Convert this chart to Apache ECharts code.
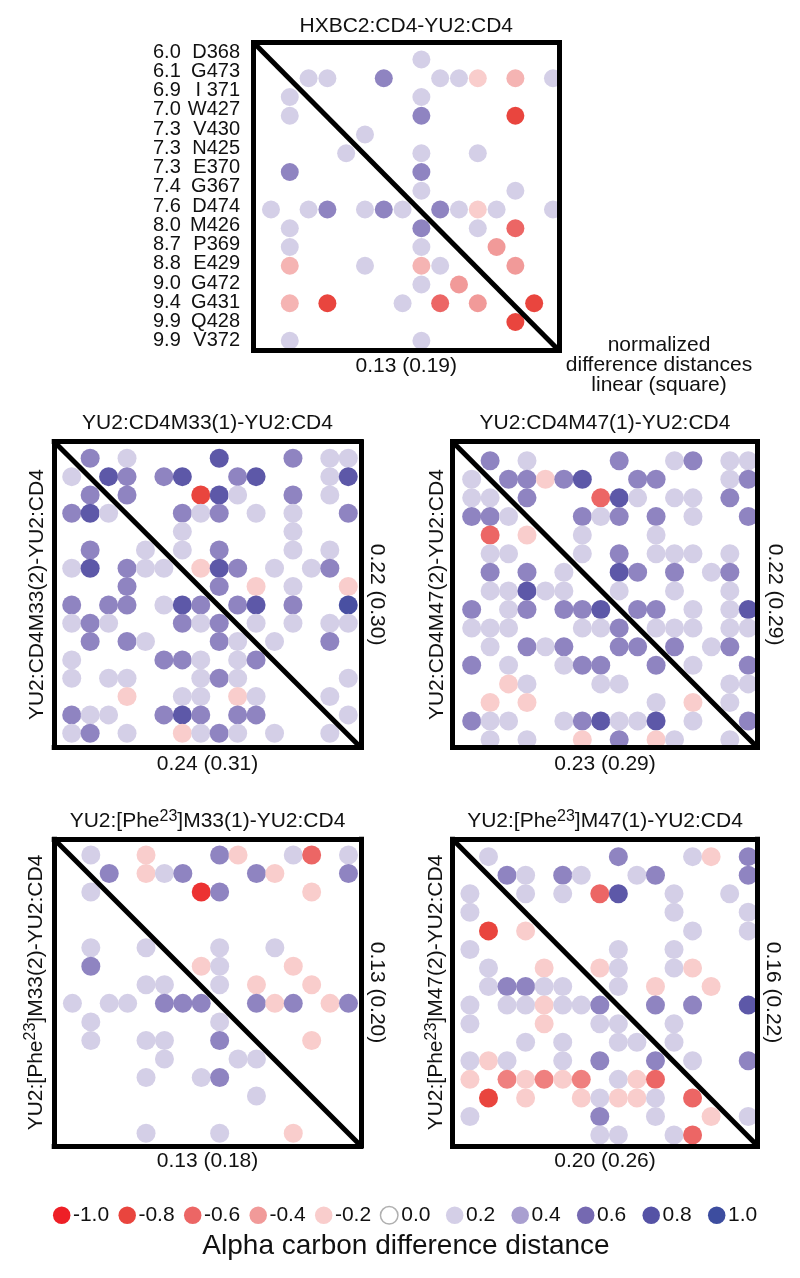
<!DOCTYPE html>
<html><head><meta charset="utf-8">
<script src="https://cdn.jsdelivr.net/npm/echarts@6/dist/echarts.min.js"></script>
<style>html,body{margin:0;padding:0;background:#fff}#c{width:800px;height:1278px}</style>
</head><body><div id="c"></div>
<script>
const FONT = '"Liberation Sans", Arial, Helvetica, sans-serif';

// ---- row labels of the top panel ----
const ROW_DIST = ['6.0','6.1','6.9','7.0','7.3','7.3','7.3','7.4','7.6','8.0','8.7','8.8','9.0','9.4','9.9','9.9'];
const ROW_RES  = ['D368','G473','I 371','W427','V430','N425','E370','G367','D474','M426','P369','E429','G472','G431','Q428','V372'];

// ---- difference-distance matrices (row = residue i, col = residue j, 0 = no dot) ----
const HXBC2 = [
 [0,0,0,0,0,0,0,0,.2,0,0,0,0,0,0,0],
 [0,0,.2,.2,0,0,.5,0,0,.2,.2,-.2,0,-.3,0,.2],
 [0,.2,0,0,0,0,0,0,.2,0,0,0,0,0,0,0],
 [0,.2,0,0,0,0,0,0,.5,0,0,0,0,-.8,0,0],
 [0,0,0,0,0,.2,0,0,0,0,0,0,0,0,0,0],
 [0,0,0,0,.2,0,0,0,.2,0,0,.2,0,0,0,0],
 [0,.5,0,0,0,0,0,0,.5,0,0,0,0,0,0,0],
 [0,0,0,0,0,0,0,0,.2,0,0,0,0,.2,0,0],
 [.2,0,.2,.5,0,.2,.5,.2,0,.5,.2,-.2,.2,0,0,.2],
 [0,.2,0,0,0,0,0,0,.5,0,0,.2,0,-.6,0,0],
 [0,.2,0,0,0,0,0,0,.2,0,0,0,-.4,0,0,0],
 [0,-.3,0,0,0,.2,0,0,-.3,.2,0,0,0,-.4,0,0],
 [0,0,0,0,0,0,0,0,.2,0,-.4,0,0,0,0,0],
 [0,-.3,0,-.8,0,0,0,.2,0,-.6,0,-.4,0,0,-.8,0],
 [0,0,0,0,0,0,0,0,0,0,0,0,0,-.8,0,0],
 [0,.2,0,0,0,0,0,0,.2,0,0,0,0,0,0,0]
];
const CD4M33 = [
 [0,.5,0,.2,0,0,0,0,.75,0,0,0,.5,0,.2,.2],
 [.2,0,.75,.5,0,.5,.75,0,0,.5,.75,0,0,0,.2,.75],
 [0,.5,0,.5,0,0,0,-.8,.75,.2,0,0,.5,0,.2,0],
 [.5,.75,.2,0,0,0,.5,.2,.5,0,.2,0,.2,0,0,.5],
 [0,0,0,0,0,0,.2,0,0,0,0,0,.2,0,0,0],
 [0,.5,0,0,.2,0,.2,0,.5,0,0,0,.2,0,.2,0],
 [.2,.75,0,.5,.2,.2,0,-.2,.75,.5,0,.2,0,.2,.5,0],
 [0,0,0,.5,0,0,0,0,.5,0,-.2,0,.2,0,0,-.2],
 [.5,0,.5,.5,0,.2,.75,.5,0,.5,.75,0,.5,0,0,.9],
 [.2,.5,.2,0,0,0,.5,.2,.5,0,.2,0,.2,0,.2,.2],
 [0,.5,0,.5,.2,0,0,0,.5,.2,0,.2,0,0,.5,0],
 [.2,0,0,0,0,.5,.5,.2,0,.2,.5,0,0,0,0,0],
 [.2,0,.2,.2,0,0,0,.2,.5,.2,0,0,0,0,0,.2],
 [0,0,0,-.2,0,0,.2,.2,0,-.2,.2,0,0,0,.2,0],
 [.5,.2,.2,0,0,.5,.75,.5,0,.5,.5,0,0,0,0,.2],
 [.2,.5,0,.2,0,0,-.2,.2,.5,.2,0,.2,0,0,.2,0]
];
const CD4M47 = [
 [0,.5,0,.2,0,0,0,0,.5,0,0,.2,.5,0,.2,.2],
 [.2,0,.5,.5,-.2,.5,.75,0,0,.5,.5,0,0,0,.2,.5],
 [.2,.2,0,.5,0,0,0,-.6,.75,.2,0,.2,.2,0,.5,0],
 [.5,.5,.2,0,0,0,.5,.2,.5,0,.5,0,.2,0,0,.5],
 [0,-.6,0,-.2,0,0,.2,0,0,0,.2,0,0,0,0,0],
 [0,.2,.2,0,0,0,.2,0,.5,0,.2,.2,.2,0,.2,0],
 [0,.5,0,.5,0,.2,0,0,.75,.5,0,.5,0,.2,.5,0],
 [0,.2,.2,.75,.2,.2,0,0,.2,0,0,.2,0,0,.2,0],
 [.5,0,.2,.5,0,.5,.5,.75,0,.5,.5,0,.2,0,.2,.75],
 [.2,.2,.2,0,0,0,.2,.2,.5,0,.2,.2,.2,0,.2,.2],
 [0,.2,0,.5,.2,.5,0,0,.5,.5,0,.5,0,.2,.5,0],
 [.5,0,.2,0,0,.2,.5,.5,0,0,.5,0,.2,0,0,.5],
 [0,0,-.2,.2,0,0,0,.2,.2,0,0,0,0,0,.2,.2],
 [0,-.2,0,-.2,0,0,0,0,0,0,.2,0,-.2,0,.2,0],
 [.5,.2,.2,0,0,.2,.5,.75,.2,.2,.75,0,.2,0,0,.5],
 [0,.2,0,.2,0,0,-.2,0,.5,0,-.2,.2,0,0,.2,0]
];
const PHE_M33 = [
 [0,.2,0,0,-.2,0,0,0,.5,-.2,0,0,.2,-.6,0,.2],
 [0,0,.5,0,-.2,.2,.5,0,0,0,.5,-.2,0,0,0,.5],
 [0,.2,0,0,0,0,0,-.9,.5,0,0,0,0,-.2,0,0],
 [0,0,0,0,0,0,0,0,0,0,0,0,0,0,0,0],
 [0,0,0,0,0,0,0,0,0,0,0,0,0,0,0,0],
 [0,.2,0,0,.2,0,0,0,.2,0,0,.2,0,0,0,0],
 [0,.5,0,0,0,0,0,-.2,.2,0,0,0,-.2,0,0,0],
 [0,0,0,0,.2,.2,0,0,.2,0,-.2,0,0,-.2,0,0],
 [.2,0,.2,.2,0,.5,.5,.5,0,0,.5,-.2,.5,0,-.2,.5],
 [0,.2,0,0,0,0,0,0,.2,0,0,0,0,0,0,0],
 [0,.2,0,0,.2,.2,0,0,.5,0,0,0,0,-.2,0,0],
 [0,0,0,0,0,.2,0,0,0,.2,.2,0,0,0,0,0],
 [0,0,0,0,.2,0,0,.2,.5,0,0,0,0,0,0,0],
 [0,0,0,0,0,0,0,0,0,0,.2,0,0,0,0,0],
 [0,0,0,0,0,0,0,0,0,0,0,0,0,0,0,0],
 [0,0,0,0,.2,0,0,0,.2,0,0,0,-.2,0,0,0]
];
const PHE_M47 = [
 [0,.2,0,0,0,0,0,0,.5,0,0,0,.2,-.2,0,.5],
 [0,0,.5,.2,0,.5,.2,0,0,.2,.5,0,0,0,0,.5],
 [.2,0,0,.2,0,.2,0,-.6,.75,0,0,.2,0,0,.2,0],
 [.2,0,0,0,0,0,0,0,0,0,0,.2,0,0,0,.2],
 [0,-.8,0,-.2,0,0,0,0,0,0,0,0,.2,0,0,.2],
 [.2,0,0,0,0,0,0,0,.2,0,0,.2,0,0,0,0],
 [0,.2,0,0,-.2,0,0,-.2,.2,0,0,.2,-.2,0,0,0],
 [0,.2,.5,.5,.2,.2,0,0,.2,0,-.2,0,0,-.2,0,0],
 [.2,0,.2,.2,-.2,.2,.2,.5,0,0,.5,0,.5,0,0,.75],
 [.2,0,0,0,-.2,0,0,.2,.2,0,0,.2,0,0,0,0],
 [0,0,0,.2,0,.2,0,0,.2,.2,0,.2,0,0,0,0],
 [.2,-.2,.2,0,0,.2,0,.5,0,0,.5,0,.2,0,0,.5],
 [-.2,0,-.5,-.2,-.5,-.2,-.5,0,.2,-.2,-.6,0,0,0,0,0],
 [0,-.8,0,-.2,0,0,-.2,.2,-.2,-.2,.2,0,-.6,0,0,0],
 [.2,0,0,0,0,0,0,.5,0,0,.2,0,0,-.2,0,.2],
 [0,0,0,0,0,0,0,.2,.2,0,0,.2,-.6,0,0,0]
];

// ---- colour scale / key ----
const LEGEND_VALUES = [-1.0,-0.8,-0.6,-0.4,-0.2,0.0,0.2,0.4,0.6,0.8,1.0];
const LEGEND_LABELS = ['-1.0','-0.8','-0.6','-0.4','-0.2','0.0','0.2','0.4','0.6','0.8','1.0'];
const SCALE_COLORS = ['#ee1f26','#e9453e','#ec6665','#f19a99','#f9cdcc','#ffffff','#d4cfe7','#a99fd0','#7569b1','#5552a5','#3d4d9f'];

// ---- texts ----
const PANEL_TEXT = [
 {top:'HXBC2:CD4-YU2:CD4', bottom:'0.13 (0.19)', left:'', right:''},
 {top:'YU2:CD4M33(1)-YU2:CD4', bottom:'0.24 (0.31)', left:'YU2:CD4M33(2)-YU2:CD4', right:'0.22 (0.30)'},
 {top:'YU2:CD4M47(1)-YU2:CD4', bottom:'0.23 (0.29)', left:'YU2:CD4M47(2)-YU2:CD4', right:'0.22 (0.29)'},
 {top:'{a|YU2:[Phe}{s|23}{a|]M33(1)-YU2:CD4}', bottom:'0.13 (0.18)', left:'{a|YU2:[Phe}{s|23}{a|]M33(2)-YU2:CD4}', right:'0.13 (0.20)'},
 {top:'{a|YU2:[Phe}{s|23}{a|]M47(1)-YU2:CD4}', bottom:'0.20 (0.26)', left:'{a|YU2:[Phe}{s|23}{a|]M47(2)-YU2:CD4}', right:'0.16 (0.22)'}
];
const NOTE_TEXT = 'normalized\ndifference distances\nlinear (square)';
const AXIS_TITLE = 'Alpha carbon difference distance';

// ---- layout (positions / sizes only) ----
const LAYOUT = [
 {mat:HXBC2,  g:[253.5, 42.5, 305.5, 308],  xr:[-0.93,15.32], yr:[-0.907,15.52], size:18, gap:{top:6, bottom:5.5, left:6, right:6}},
 {mat:CD4M33, g:[54.2, 441.7, 306.6, 305.8], xr:[-0.95,15.68], yr:[-0.906,15.78], size:19, gap:{top:7.5, bottom:6.5, left:6.4, right:5.7}},
 {mat:CD4M47, g:[452.5, 441.7, 305, 305.8],  xr:[-1.04,15.5],  yr:[-1.02,15.42],  size:19, gap:{top:7.5, bottom:6.5, left:4.7, right:7}},
 {mat:PHE_M33,g:[54.2, 839.2, 306.6, 306.6], xr:[-0.99,15.67], yr:[-0.85,15.68],  size:19, gap:{top:5, bottom:5.3, left:5.2, right:5}},
 {mat:PHE_M47,g:[452.5, 839.2, 305, 306.6],  xr:[-0.94,15.5],  yr:[-0.94,15.58],  size:19, gap:{top:5, bottom:5.3, left:3.2, right:4.7}}
];

const RICH = {
  a: {fontSize:21, fontFamily:FONT, color:'#111'},
  s: {fontSize:16, fontFamily:FONT, color:'#111', padding:[0,0,10,0]}
};

const grid = [], xAxis = [], yAxis = [], series = [], coloredIdx = [];
LAYOUT.forEach((p, i) => {
  const t = PANEL_TEXT[i];
  grid.push({left:p.g[0], top:p.g[1], width:p.g[2], height:p.g[3], containLabel:false, outerBoundsMode:'none', show:false});
  const lineStyle = {color:'#000', width:5, cap:'square'};
  const base = () => ({type:'value', gridIndex:i, z:10,
    axisLine:{show:true, onZero:false, lineStyle},
    axisTick:{show:false}, axisLabel:{show:false}, splitLine:{show:false},
    nameLocation:'middle',
    nameTextStyle:{fontSize:21, color:'#111', fontFamily:FONT, rich:RICH}});
  const xb = xAxis.length;
  xAxis.push(Object.assign(base(), {position:'bottom', min:p.xr[0], max:p.xr[1], name:t.bottom, nameGap:p.gap.bottom}));
  xAxis.push(Object.assign(base(), {position:'top', min:p.xr[0], max:p.xr[1], name:t.top, nameGap:p.gap.top}));
  const yb = yAxis.length;
  yAxis.push(Object.assign(base(), {position:'left', inverse:true, min:p.yr[0], max:p.yr[1], name:t.left, nameRotate:90, nameGap:p.gap.left}));
  yAxis.push(Object.assign(base(), {position:'right', inverse:true, min:p.yr[0], max:p.yr[1], name:t.right, nameRotate:-90, nameGap:p.gap.right}));
  if (i === 0) {
    yAxis.push({type:'category', gridIndex:0, position:'left', inverse:true, data:ROW_RES,
      axisLine:{show:false}, axisTick:{show:false}, splitLine:{show:false},
      axisLabel:{show:true, interval:0, hideOverlap:false, margin:13.5, align:'right',
        formatter:(v, idx) => '{n|' + ROW_DIST[idx] + '}{r|' + v + '}',
        rich:{n:{width:38, align:'left', fontSize:20, fontFamily:FONT, color:'#111', lineHeight:19},
              r:{width:49, align:'right', fontSize:20, fontFamily:FONT, color:'#111', lineHeight:19}}}});
  }
  const data = [];
  p.mat.forEach((row, r) => row.forEach((v, c) => { if (v !== 0) data.push([c, r, v]); }));
  coloredIdx.push(series.length);
  series.push({type:'scatter', xAxisIndex:xb, yAxisIndex:yb, data, symbol:'circle', symbolSize:p.size,
    itemStyle:{opacity:1}, z:2, clip:true, silent:true, animation:false});
  series.push({type:'line', xAxisIndex:xb, yAxisIndex:yb,
    data:[[p.xr[0], p.yr[0]], [p.xr[1], p.yr[1]]],
    symbol:'none', lineStyle:{color:'#000', width:5}, z:5, clip:true, silent:true, animation:false});
});

// ---- colour key: a linear value axis from -1 to 1 ----
const KEY_GRID = LAYOUT.length;
grid.push({left:61.7, top:1205.3, width:655, height:20, containLabel:false, outerBoundsMode:'none', show:false});
const kx = xAxis.length, ky = yAxis.length;
xAxis.push({type:'value', gridIndex:KEY_GRID, min:-1, max:1, show:false});
yAxis.push({type:'value', gridIndex:KEY_GRID, min:-1, max:1, show:false});
coloredIdx.push(series.length);
series.push({type:'scatter', xAxisIndex:kx, yAxisIndex:ky, symbol:'circle', symbolSize:17.5, clip:false, silent:true, animation:false,
  data:LEGEND_VALUES.map((v, k) => ({value:[v, 0, v],
     itemStyle: v === 0 ? {opacity:1, borderColor:'#b0b0b0', borderWidth:1.5} : {opacity:1},
     label:{formatter:LEGEND_LABELS[k]}})),
  label:{show:true, position:'right', distance:2.5, fontSize:21, fontFamily:FONT, color:'#111'}});

const option = {
  animation:false,
  backgroundColor:'#ffffff',
  textStyle:{fontFamily:FONT},
  grid, xAxis, yAxis, series,
  visualMap:[{type:'continuous', show:false, min:-1, max:1, dimension:2, seriesIndex:coloredIdx,
    inRange:{color:SCALE_COLORS}}],
  graphic:[
    {type:'text', x:659, y:365, silent:true,
     style:{text:NOTE_TEXT, align:'center', verticalAlign:'middle', textAlign:'center', textVerticalAlign:'middle',
            fontSize:21, fontFamily:FONT, lineHeight:20, fill:'#111'}},
    {type:'text', x:406, y:1246, silent:true,
     style:{text:AXIS_TITLE, align:'center', verticalAlign:'middle', textAlign:'center', textVerticalAlign:'middle',
            fontSize:28, fontFamily:FONT, fill:'#111'}}
  ]
};

const chart = echarts.init(document.getElementById('c'), null, {renderer:'canvas', width:800, height:1278});
chart.setOption(option);
</script></body></html>
